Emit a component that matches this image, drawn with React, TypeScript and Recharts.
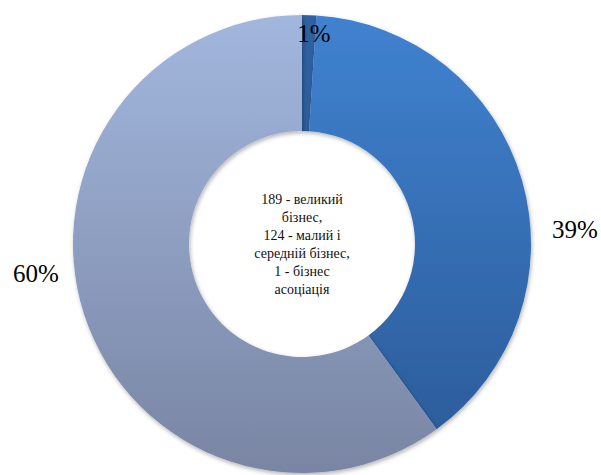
import React from 'react';
import { PieChart, Pie, Cell, Label } from 'recharts';

// business types (in percent of total)
const categories = ['бізнес асоціація', 'малий і середній бізнес', 'великий бізнес'];
const shares = [1, 39, 60];
const centerLines = [
  '189 - великий',
  'бізнес,',
  '124 - малий і',
  'середній бізнес,',
  '1 - бізнес',
  'асоціація',
];

const data = categories.map((name, i) => ({ name, value: shares[i] }));

const fills = ['url(#gDark)', 'url(#gMid)', 'url(#gLight)'];
// where Excel put the labels, relative to the centre
const labelOffsets = [
  { dx: 12, dy: -211 },
  { dx: 273, dy: -15 },
  { dx: -266, dy: 29 },
];

const CX = 302;
const CY = 244;
const SERIF = 'Liberation Serif';

const renderLabel = (props: any) => {
  const off = labelOffsets[props.index] || { dx: 0, dy: 0 };
  return (
    <text
      x={CX + off.dx}
      y={CY + off.dy + 9}
      textAnchor="middle"
      fill="#000"
      style={{ fontFamily: SERIF, fontSize: 25 }}
    >
      {`${props.value}%`}
    </text>
  );
};

const CenterText = () => {
  const lh = 18;
  const top = CY - ((centerLines.length - 1) * lh) / 2 + 5;
  return (
    <text textAnchor="middle" fill="#111" style={{ fontFamily: SERIF, fontSize: 14 }}>
      {centerLines.map((l, i) => (
        <tspan key={i} x={CX} y={top + i * lh}>
          {l}
        </tspan>
      ))}
    </text>
  );
};

const App = () => {
  return (
    <div style={{ position: 'absolute', left: 0, top: 0, background: '#fff', fontFamily: SERIF }}>
      <style>{'.recharts-pie-sector path{filter:url(#ringShadow)}'}</style>
      <PieChart width={601} height={475} margin={{ top: 0, right: 0, bottom: 0, left: 0 }}>
        <defs>
          <linearGradient id="gDark" x1="0" y1="15" x2="0" y2="473" gradientUnits="userSpaceOnUse">
            <stop offset="0%" stopColor="#2f62a3" />
            <stop offset="100%" stopColor="#264f86" />
          </linearGradient>
          <linearGradient id="gMid" x1="0" y1="15" x2="0" y2="430" gradientUnits="userSpaceOnUse">
            <stop offset="0%" stopColor="#4082d0" />
            <stop offset="100%" stopColor="#2c5d9c" />
          </linearGradient>
          <linearGradient id="gLight" x1="0" y1="15" x2="0" y2="473" gradientUnits="userSpaceOnUse">
            <stop offset="0%" stopColor="#a2b7de" />
            <stop offset="100%" stopColor="#7985a3" />
          </linearGradient>
          <filter id="ringShadow" x="-10%" y="-10%" width="120%" height="120%">
            <feDropShadow dx="1" dy="2" stdDeviation="2" floodColor="#000" floodOpacity="0.3" />
          </filter>
        </defs>
        <Pie
          data={data}
          dataKey="value"
          nameKey="name"
          cx={CX}
          cy={CY}
          innerRadius={113}
          outerRadius={229}
          startAngle={90}
          endAngle={-270}
          stroke="none"
          label={renderLabel}
          labelLine={false}
          isAnimationActive={false}
        >
          {data.map((d, i) => (
            <Cell key={d.name} fill={fills[i]} />
          ))}
          <Label position="center" content={CenterText} />
        </Pie>
      </PieChart>
    </div>
  );
};

export default App;
